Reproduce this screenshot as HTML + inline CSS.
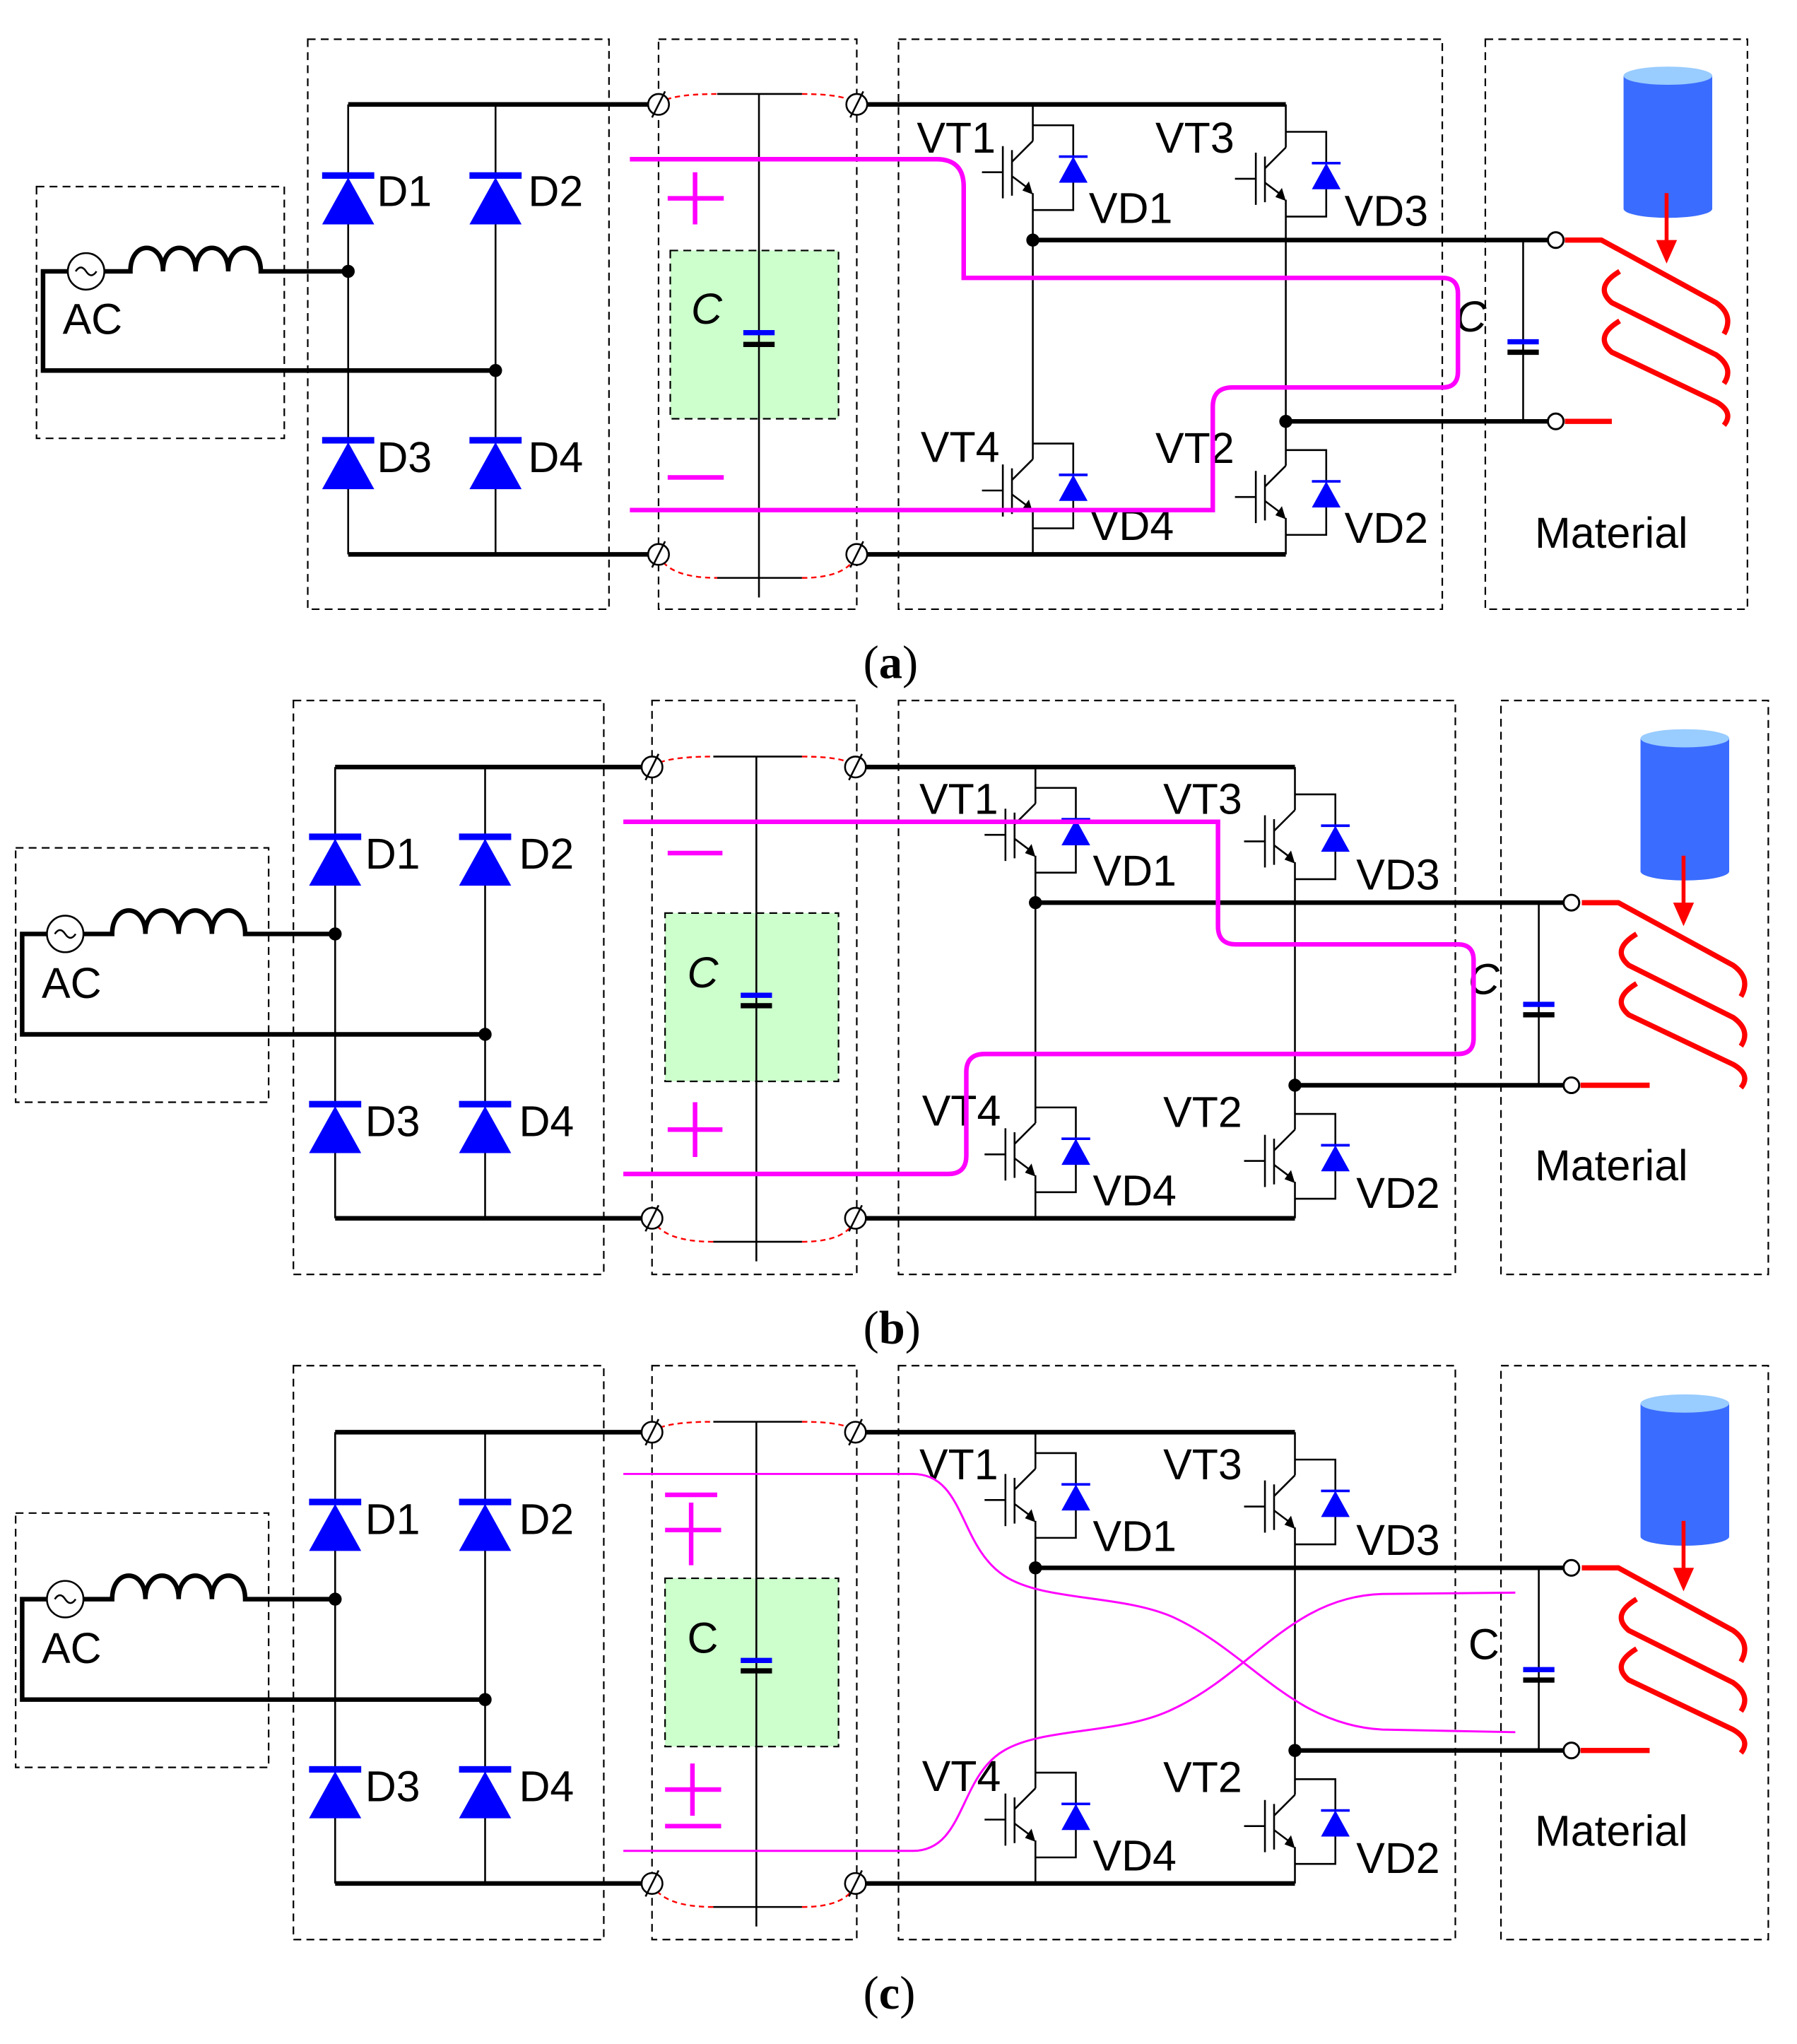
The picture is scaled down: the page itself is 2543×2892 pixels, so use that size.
<!DOCTYPE html>
<html><head><meta charset="utf-8"><style>
html,body{margin:0;padding:0;background:#fff}
svg{display:block}
text{font-family:"Liberation Sans",sans-serif;font-size:33px;fill:#000}
.s{font-family:"Liberation Serif",serif;font-size:36px}
.w{stroke:#000;stroke-width:3.5;fill:none}
.t{stroke:#000;stroke-width:1.4;fill:none}
.bx{stroke:#000;stroke-width:1.2;fill:none;stroke-dasharray:6,4}
.mg{stroke:#ff00ff;stroke-width:3.5;fill:none}
.mg2{stroke:#ff00ff;stroke-width:1.6;fill:none}
.red{stroke:#ff0000;stroke-width:4;fill:none}
</style></head><body>
<svg width="2543" height="2892" viewBox="0 0 1378 1567" xmlns="http://www.w3.org/2000/svg">
<defs>
<g id="igbt">
<polyline class="t" points="0,-34 31,-34 31,31 0,31"/>
<line class="t" x1="0" y1="-22" x2="-16" y2="-6"/>
<line class="t" x1="-16" y1="-15" x2="-16" y2="20"/>
<line class="t" x1="-23" y1="-18" x2="-23" y2="22"/>
<line class="t" x1="-39" y1="2" x2="-23" y2="2"/>
<line class="t" x1="-16" y1="5" x2="-4" y2="14"/>
<polygon points="0,19 -8,16 -3,9" fill="#000"/>
<line x1="20" y1="-10" x2="42" y2="-10" stroke="#0000ff" stroke-width="2"/>
<polygon points="20,10 42,10 31,-10" fill="#0000ff"/>
</g>
<g id="dio">
<rect x="-20" y="-2" width="40" height="5" fill="#0000ff"/>
<polygon points="-20,38 20,38 0,2" fill="#0000ff"/>
</g>
<g id="term">
<circle cx="0" cy="0" r="8" fill="#fff" stroke="#000" stroke-width="1.4"/>
<line x1="-5" y1="10" x2="5" y2="-10" stroke="#000" stroke-width="1.4"/>
</g>
<g id="mat">
<path d="M1245,58 L1245,160 A34,7 0 0 0 1313,160 L1313,58 Z" fill="#3a6cff"/>
<ellipse cx="1279" cy="58" rx="34" ry="7" fill="#99ccff"/>
<line x1="1278" y1="148" x2="1278" y2="188" stroke="#ff0000" stroke-width="3"/>
<polygon points="1270,184 1286,184 1278,202" fill="#ff0000"/>
<path class="red" d="M1200,184 L1228,184 L1316,232 Q1330,242 1322,256"/>
<path class="red" d="M1242,208 Q1222,220 1236,232 L1316,272 Q1330,282 1322,294"/>
<path class="red" d="M1242,246 Q1222,258 1236,270 L1316,308 Q1330,316 1322,326"/>
</g>
</defs>

<!-- ================= PANEL A ================= -->
<g>
<rect class="bx" x="28" y="143" width="190" height="193"/>
<rect class="bx" x="236" y="30" width="231" height="437"/>
<rect class="bx" x="505" y="30" width="152" height="437"/>
<rect class="bx" x="689" y="30" width="417" height="437"/>
<rect class="bx" x="1139" y="30" width="201" height="437"/>
<!-- AC -->
<circle cx="66" cy="208" r="14" fill="none" stroke="#000" stroke-width="1.4"/>
<path d="M58,208 q4,-6 8,0 q4,6 8,0" class="t"/>
<polyline class="w" points="52,208 33,208 33,284 380,284"/>
<path class="w" d="M80,208 L100,208 c0,-24 25,-24 25,0 c0,-24 25,-24 25,0 c0,-24 25,-24 25,0 c0,-24 25,-24 25,0 L267,208"/>
<circle cx="267" cy="208" r="5"/><circle cx="380" cy="284" r="5"/>
<text x="48" y="256">AC</text>
<!-- rectifier -->
<line class="t" x1="267" y1="80" x2="267" y2="425"/>
<line class="t" x1="380" y1="80" x2="380" y2="425"/>
<line class="w" x1="267" y1="80" x2="497" y2="80"/>
<line class="w" x1="267" y1="425" x2="497" y2="425"/>
<use href="#dio" x="267" y="134"/><use href="#dio" x="380" y="134"/>
<use href="#dio" x="267" y="337"/><use href="#dio" x="380" y="337"/>
<text x="289" y="158">D1</text><text x="405" y="158">D2</text>
<text x="289" y="362">D3</text><text x="405" y="362">D4</text>
<!-- cap module -->
<rect x="514" y="192" width="129" height="129" fill="#ccffcc" stroke="#000" stroke-width="1.2" stroke-dasharray="6,4"/>
<line class="t" x1="582" y1="72" x2="582" y2="458"/>
<line class="t" x1="550" y1="72" x2="615" y2="72"/>
<line class="t" x1="550" y1="443" x2="615" y2="443"/>
<path d="M505,80 Q512,72 550,72 M615,72 Q650,72 657,80 M505,425 Q512,443 550,443 M615,443 Q650,443 657,425" fill="none" stroke="#ff0000" stroke-width="1.3" stroke-dasharray="4,3"/>
<line x1="570" y1="255" x2="594" y2="255" stroke="#0000ff" stroke-width="4"/>
<line x1="570" y1="264" x2="594" y2="264" stroke="#000" stroke-width="4"/>
<text x="530" y="248" font-style="italic">C</text>
<line class="mg" x1="512" y1="152" x2="555" y2="152" stroke-width="5"/>
<line class="mg" x1="533" y1="132" x2="533" y2="172" stroke-width="5"/>
<line class="mg" x1="512" y1="366" x2="555" y2="366" stroke-width="5"/>
<!-- inverter -->
<line class="w" x1="665" y1="80" x2="986" y2="80"/>
<line class="w" x1="665" y1="425" x2="986" y2="425"/>
<line class="t" x1="792" y1="80" x2="792" y2="108"/>
<line class="t" x1="792" y1="148" x2="792" y2="352"/>
<line class="t" x1="792" y1="392" x2="792" y2="425"/>
<line class="t" x1="986" y1="80" x2="986" y2="113"/>
<line class="t" x1="986" y1="153" x2="986" y2="357"/>
<line class="t" x1="986" y1="397" x2="986" y2="425"/>
<use href="#igbt" x="792" y="130"/><use href="#igbt" x="986" y="135"/>
<use href="#igbt" x="792" y="374"/><use href="#igbt" x="986" y="379"/>
<text x="703" y="117">VT1</text><text x="886" y="117">VT3</text>
<text x="706" y="354">VT4</text><text x="886" y="355">VT2</text>
<text x="835" y="171">VD1</text><text x="1031" y="173">VD3</text>
<text x="836" y="414">VD4</text><use href="#term" x="-9999"/><text x="1031" y="416">VD2</text>
<use href="#term" x="505" y="80"/><use href="#term" x="657" y="80"/>
<use href="#term" x="505" y="425"/><use href="#term" x="657" y="425"/>
<line class="w" x1="792" y1="184" x2="1187" y2="184"/>
<line class="w" x1="986" y1="323" x2="1187" y2="323"/>
<circle cx="792" cy="184" r="5"/><circle cx="986" cy="323" r="5"/>
<line class="t" x1="1168" y1="184" x2="1168" y2="323"/>
<line x1="1156" y1="262" x2="1180" y2="262" stroke="#0000ff" stroke-width="4"/>
<line x1="1156" y1="270" x2="1180" y2="270" stroke="#000" stroke-width="4"/>
<text x="1116" y="254" font-style="italic">C</text>
<line class="red" x1="1200" y1="323" x2="1236" y2="323"/>
<use href="#mat"/>
<circle cx="1193" cy="184" r="6" fill="#fff" stroke="#000" stroke-width="1.6"/>
<circle cx="1193" cy="323" r="6" fill="#fff" stroke="#000" stroke-width="1.6"/>
<text x="1177" y="420">Material</text>
<path class="mg" d="M483,122 L718,122 Q739,122 739,143 L739,213 L1106,213 Q1118,213 1118,225 L1118,285 Q1118,297 1106,297 L945,297 Q930,297 930,312 L930,391 L483,391"/>
<text class="s" x="662" y="520">(<tspan font-weight="bold">a</tspan>)</text>
</g>

<!-- ================= PANEL B & C common ================= -->
<g id="pb">
<rect class="bx" x="12" y="650" width="194" height="195"/>
<rect class="bx" x="225" y="537" width="238" height="440"/>
<rect class="bx" x="500" y="537" width="157" height="440"/>
<rect class="bx" x="689" y="537" width="427" height="440"/>
<rect class="bx" x="1151" y="537" width="205" height="440"/>
<circle cx="50" cy="716" r="14" fill="none" stroke="#000" stroke-width="1.4"/>
<path d="M42,716 q4,-6 8,0 q4,6 8,0" class="t"/>
<polyline class="w" points="36,716 17,716 17,793 372,793"/>
<path class="w" d="M64,716 L86,716 c0,-24 25.5,-24 25.5,0 c0,-24 25.5,-24 25.5,0 c0,-24 25.5,-24 25.5,0 c0,-24 25.5,-24 25.5,0 L257,716"/>
<circle cx="257" cy="716" r="5"/><circle cx="372" cy="793" r="5"/>
<text x="32" y="765">AC</text>
<line class="t" x1="257" y1="588" x2="257" y2="934"/>
<line class="t" x1="372" y1="588" x2="372" y2="934"/>
<line class="w" x1="257" y1="588" x2="492" y2="588"/>
<line class="w" x1="257" y1="934" x2="492" y2="934"/>
<use href="#dio" x="257" y="641"/><use href="#dio" x="372" y="641"/>
<use href="#dio" x="257" y="846"/><use href="#dio" x="372" y="846"/>
<text x="280" y="666">D1</text><text x="398" y="666">D2</text>
<text x="280" y="871">D3</text><text x="398" y="871">D4</text>
<rect x="510" y="700" width="133" height="129" fill="#ccffcc" stroke="#000" stroke-width="1.2" stroke-dasharray="6,4"/>
<line class="t" x1="580" y1="580" x2="580" y2="967"/>
<line class="t" x1="547" y1="580" x2="615" y2="580"/>
<line class="t" x1="547" y1="952" x2="615" y2="952"/>
<path d="M500,588 Q508,580 547,580 M615,580 Q650,580 656,588 M500,934 Q508,952 547,952 M615,952 Q650,952 656,934" fill="none" stroke="#ff0000" stroke-width="1.3" stroke-dasharray="4,3"/>
<line x1="568" y1="763" x2="592" y2="763" stroke="#0000ff" stroke-width="4"/>
<line x1="568" y1="771" x2="592" y2="771" stroke="#000" stroke-width="4"/>
<line class="w" x1="664" y1="588" x2="993" y2="588"/>
<line class="w" x1="664" y1="934" x2="993" y2="934"/>
<line class="t" x1="794" y1="588" x2="794" y2="616"/>
<line class="t" x1="794" y1="656" x2="794" y2="861"/>
<line class="t" x1="794" y1="901" x2="794" y2="934"/>
<line class="t" x1="993" y1="588" x2="993" y2="621"/>
<line class="t" x1="993" y1="661" x2="993" y2="866"/>
<line class="t" x1="993" y1="906" x2="993" y2="934"/>
<use href="#igbt" x="794" y="638"/><use href="#igbt" x="993" y="643"/>
<use href="#igbt" x="794" y="883"/><use href="#igbt" x="993" y="888"/>
<text x="705" y="624">VT1</text><text x="892" y="624">VT3</text>
<text x="707" y="863">VT4</text><text x="892" y="864">VT2</text>
<text x="838" y="679">VD1</text><text x="1040" y="682">VD3</text>
<text x="838" y="924">VD4</text><text x="1040" y="926">VD2</text>
<use href="#term" x="500" y="588"/><use href="#term" x="656" y="588"/>
<use href="#term" x="500" y="934"/><use href="#term" x="656" y="934"/>
<line class="w" x1="794" y1="692" x2="1199" y2="692"/>
<line class="w" x1="993" y1="832" x2="1199" y2="832"/>
<circle cx="794" cy="692" r="5"/><circle cx="993" cy="832" r="5"/>
<line class="t" x1="1180" y1="692" x2="1180" y2="832"/>
<line x1="1168" y1="770" x2="1192" y2="770" stroke="#0000ff" stroke-width="4"/>
<line x1="1168" y1="778" x2="1192" y2="778" stroke="#000" stroke-width="4"/>
<line class="red" x1="1212" y1="832" x2="1265" y2="832"/>
<use href="#mat" transform="translate(13,508)"/>
<circle cx="1205" cy="692" r="6" fill="#fff" stroke="#000" stroke-width="1.6"/>
<circle cx="1205" cy="832" r="6" fill="#fff" stroke="#000" stroke-width="1.6"/>
<text x="1177" y="905">Material</text>
</g>
<!-- panel b specific -->
<text x="527" y="757" font-style="italic">C</text>
<text x="1126" y="762" font-style="italic">C</text>
<line class="mg" x1="512" y1="654" x2="554" y2="654" stroke-width="5"/>
<line class="mg" x1="512" y1="866" x2="554" y2="866" stroke-width="5"/>
<line class="mg" x1="533" y1="845" x2="533" y2="887" stroke-width="5"/>
<path class="mg" d="M478,630 L934,630 L934,710 Q934,724 948,724 L1118,724 Q1130,724 1130,736 L1130,796 Q1130,808 1118,808 L755,808 Q741,808 741,822 L741,886 Q741,900 727,900 L478,900"/>
<text class="s" x="662" y="1030">(<tspan font-weight="bold">b</tspan>)</text>

<!-- panel c -->
<use href="#pb" transform="translate(0,510)"/>
<text x="527" y="1267">C</text>
<text x="1126" y="1272">C</text>
<line class="mg" x1="510" y1="1146" x2="550" y2="1146" stroke-width="5"/>
<line class="mg" x1="510" y1="1173" x2="553" y2="1173" stroke-width="5"/>
<line class="mg" x1="530" y1="1152" x2="530" y2="1200" stroke-width="5"/>
<line class="mg" x1="510" y1="1372" x2="553" y2="1372" stroke-width="5"/>
<line class="mg" x1="531" y1="1352" x2="531" y2="1392" stroke-width="5"/>
<line class="mg" x1="510" y1="1400" x2="553" y2="1400" stroke-width="5"/>
<path class="mg2" d="M478,1130 L700,1130 C740,1130 735,1185 770,1208 C800,1228 860,1222 900,1240 C960,1268 990,1322 1060,1326 L1162,1328"/>
<path class="mg2" d="M478,1419 L700,1419 C740,1419 735,1362 770,1342 C800,1324 860,1330 900,1310 C960,1282 990,1224 1060,1222 L1162,1221"/>
<text class="s" x="662" y="1540">(<tspan font-weight="bold">c</tspan>)</text>
</svg>
</body></html>
